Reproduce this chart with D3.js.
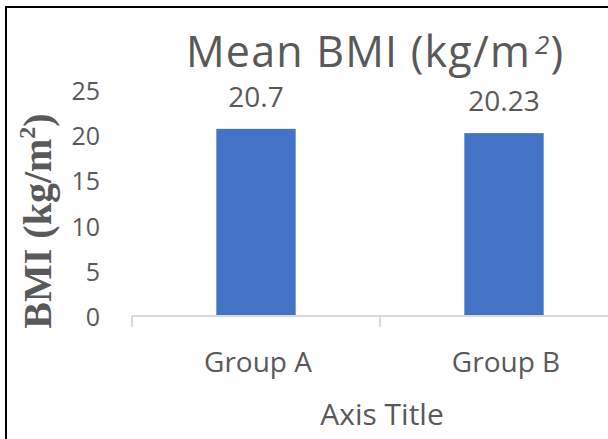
<!DOCTYPE html>
<html>
<head>
<meta charset="utf-8">
<script src="https://cdn.jsdelivr.net/npm/d3@7"></script>
<style>
  html, body { margin: 0; padding: 0; background: #fff; }
  svg { display: block; }
</style>
</head>
<body>
<script>
// Chart data
const categories = ["Group A", "Group B"];
const values = [20.7, 20.23];
const valueLabels = ["20.7", "20.23"];
const yTicks = [0, 5, 10, 15, 20, 25];

const W = 608, H = 439;
const textColor = "#595959";
const barColor = "#4472C4";
const axisColor = "#D9D9D9";
const sans = "'Open Sans', 'Noto Sans', sans-serif";

const svg = d3.select("body").append("svg")
  .attr("width", W).attr("height", H);

// Frame (left and top edges)
svg.append("path")
  .attr("d", `M6,${H} V7 H${W}`)
  .attr("fill", "none")
  .attr("stroke", "#000")
  .attr("stroke-width", 2);

// Scales
const x = d3.scaleBand()
  .domain(categories)
  .range([132, 628])
  .paddingInner(0.68)
  .paddingOuter(0.34);

const y = d3.scaleLinear()
  .domain([0, 25])
  .range([316, 90]);

// Bars
svg.append("g").selectAll("rect")
  .data(categories)
  .join("rect")
  .attr("x", d => x(d))
  .attr("width", x.bandwidth())
  .attr("y", (d, i) => y(values[i]))
  .attr("height", (d, i) => y(0) - y(values[i]))
  .attr("fill", barColor);

// Value labels
svg.append("g").selectAll("text")
  .data(categories)
  .join("text")
  .attr("x", d => x(d) + x.bandwidth() / 2)
  .attr("y", (d, i) => y(values[i]) - 22)
  .attr("text-anchor", "middle")
  .attr("font-family", sans)
  .attr("font-size", 28)
  .attr("fill", textColor)
  .text((d, i) => valueLabels[i]);

// Y tick labels (no axis line)
svg.append("g").selectAll("text")
  .data(yTicks)
  .join("text")
  .attr("x", 100)
  .attr("y", d => y(d) + 10)
  .attr("text-anchor", "end")
  .attr("font-family", sans)
  .attr("font-size", 25)
  .attr("fill", textColor)
  .text(d => d);

// X axis: baseline with category boundary ticks
const xAxisG = svg.append("g");
xAxisG.append("line")
  .attr("x1", 132).attr("x2", W)
  .attr("y1", y(0)).attr("y2", y(0))
  .attr("stroke", axisColor).attr("stroke-width", 2);
const boundaries = categories.map(d => x(d) - x.step() * x.paddingInner() / 2);
xAxisG.selectAll("line.tick")
  .data(boundaries)
  .join("line")
  .attr("class", "tick")
  .attr("x1", d => d).attr("x2", d => d)
  .attr("y1", y(0)).attr("y2", y(0) + 11)
  .attr("stroke", axisColor).attr("stroke-width", 2);

// Category labels
xAxisG.selectAll("text")
  .data(categories)
  .join("text")
  .attr("x", d => x(d) + x.bandwidth() / 2 + 2)
  .attr("y", 372)
  .attr("text-anchor", "middle")
  .attr("font-family", sans)
  .attr("font-size", 28)
  .attr("fill", textColor)
  .text(d => d);

// X axis title
svg.append("text")
  .attr("x", 382)
  .attr("y", 425)
  .attr("text-anchor", "middle")
  .attr("font-family", sans)
  .attr("font-size", 30)
  .attr("fill", textColor)
  .text("Axis Title");

// Chart title with superscript
const title = svg.append("text")
  .attr("x", 186)
  .attr("y", 67)
  .attr("font-family", sans)
  .attr("font-size", 43)
  .attr("letter-spacing", 1.2)
  .attr("fill", textColor);
title.append("tspan").text("Mean BMI (kg/m");
title.append("tspan")
  .attr("font-size", 26)
  .attr("dy", -13)
  .attr("dx", 4)
  .attr("font-style", "italic")
  .text("2");
title.append("tspan").attr("dy", 13).text(")");

// Y axis title (serif bold, rotated)
const yTitle = svg.append("text")
  .attr("transform", "translate(51,221) rotate(-90)")
  .attr("text-anchor", "middle")
  .attr("font-family", "'Liberation Serif', 'DejaVu Serif', serif")
  .attr("font-weight", "bold")
  .attr("font-size", 40)
  .attr("fill", textColor);
yTitle.append("tspan").text("BMI (kg/m");
yTitle.append("tspan").attr("font-size", 24).attr("dy", -16).text("2");
yTitle.append("tspan").attr("dy", 16).text(")");
</script>
</body>
</html>
